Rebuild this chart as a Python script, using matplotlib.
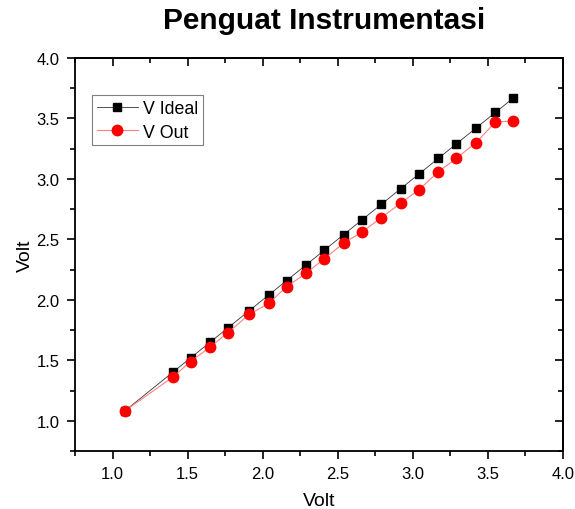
import matplotlib
matplotlib.use("Agg")
import matplotlib.pyplot as plt
from matplotlib.ticker import MultipleLocator

plt.rcParams['font.family'] = ['Liberation Sans', 'DejaVu Sans']

x_vals = [1.08, 1.40, 1.52, 1.65, 1.77, 1.91, 2.04, 2.16, 2.29, 2.41,
          2.54, 2.66, 2.79, 2.92, 3.04, 3.17, 3.29, 3.42, 3.55, 3.67]
v_ideal = [1.08, 1.40, 1.52, 1.65, 1.77, 1.91, 2.04, 2.16, 2.29, 2.41,
           2.54, 2.66, 2.79, 2.92, 3.04, 3.17, 3.29, 3.42, 3.55, 3.67]
v_out = [1.08, 1.36, 1.49, 1.61, 1.73, 1.88, 1.97, 2.11, 2.22, 2.34,
         2.47, 2.56, 2.68, 2.80, 2.91, 3.06, 3.17, 3.30, 3.47, 3.48]
series_labels = ["V Ideal", "V Out"]
title = "Penguat Instrumentasi"
x_label = "Volt"
y_label = "Volt"

fig = plt.figure(figsize=(5.75, 5.1), dpi=100)
ax = fig.add_axes([0.1304, 0.1137, 0.8487, 0.7706])

ax.plot(x_vals, v_ideal, color='#333333', lw=0.6, marker='s', markersize=6,
        markerfacecolor='black', markeredgecolor='black', label=series_labels[0], zorder=3)
ax.plot(x_vals, v_out, color='#ff8080', lw=0.8, marker='o', markersize=7.5,
        markerfacecolor='red', markeredgecolor='red', label=series_labels[1], zorder=4)

ax.set_xlim(0.75, 4.0)
ax.set_ylim(0.75, 4.0)
ax.xaxis.set_major_locator(MultipleLocator(0.5))
ax.xaxis.set_minor_locator(MultipleLocator(0.25))
ax.yaxis.set_major_locator(MultipleLocator(0.5))
ax.yaxis.set_minor_locator(MultipleLocator(0.25))
ax.xaxis.set_major_formatter(matplotlib.ticker.FormatStrFormatter('%.1f'))
ax.yaxis.set_major_formatter(matplotlib.ticker.FormatStrFormatter('%.1f'))

ax.tick_params(which='both', direction='out', top=False, right=False,
               labelsize=12, width=1.2, colors='black')
ax.tick_params(which='major', length=6, pad=5)
ax.tick_params(which='minor', length=3.5)
for s in ax.spines.values():
    s.set_linewidth(1.3)

# inward ticks on top and right
axt = ax.secondary_xaxis('top')
axt.xaxis.set_major_locator(MultipleLocator(0.5))
axt.xaxis.set_minor_locator(MultipleLocator(0.25))
axt.tick_params(which='both', direction='in', labeltop=False, width=1.2)
axt.tick_params(which='major', length=6)
axt.tick_params(which='minor', length=3.5)
axt.spines['top'].set_linewidth(1.3)
axr = ax.secondary_yaxis('right')
axr.yaxis.set_major_locator(MultipleLocator(0.5))
axr.yaxis.set_minor_locator(MultipleLocator(0.25))
axr.tick_params(which='both', direction='in', labelright=False, width=1.2)
axr.tick_params(which='major', length=6)
axr.tick_params(which='minor', length=3.5)
axr.spines['right'].set_linewidth(1.3)

ax.set_xlabel(x_label, fontsize=14, labelpad=8)
ax.set_ylabel(y_label, fontsize=14, labelpad=2)
fig.text(0.563, 0.958, title, fontsize=21.5, fontweight='bold', ha='center', va='center')

leg = ax.legend(loc='upper left', bbox_to_anchor=(0.035, 0.905), fontsize=12.8,
                fancybox=False, framealpha=1, edgecolor='gray',
                handlelength=2.35, handletextpad=0.28, borderpad=0.25,
                labelspacing=0.38, borderaxespad=0)
leg.get_frame().set_linewidth(0.8)

fig.savefig("out.png", dpi=100)
